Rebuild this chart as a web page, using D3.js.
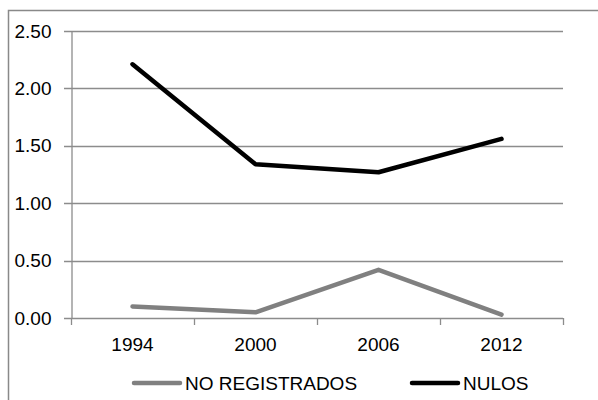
<!DOCTYPE html>
<html><head><meta charset="utf-8">
<script src="https://cdn.jsdelivr.net/npm/d3@7"></script>
<style>html,body{margin:0;padding:0;background:#fff;}svg{display:block;}</style>
</head><body>
<svg id="chart" width="598" height="400"></svg>
<script>
const years = ["1994", "2000", "2006", "2012"];
const noRegistrados = [0.10, 0.05, 0.42, 0.03];
const nulos = [2.21, 1.34, 1.27, 1.56];
const yTicks = [0, 0.5, 1, 1.5, 2, 2.5];
const seriesNames = ["NO REGISTRADOS", "NULOS"];
const seriesColors = ["#808080", "#000000"];

const svg = d3.select("#chart");
const font = "'Liberation Sans', Arial, sans-serif";
const fs = 19;

// outer frame
svg.append("rect").attr("x", 8.5).attr("y", 10.5).attr("width", 620).attr("height", 420)
  .attr("fill", "none").attr("stroke", "#898989").attr("stroke-width", 1.5);

const x = d3.scaleBand().domain(years).range([71, 563]);
const y = d3.scaleLinear().domain([0, 2.5]).range([318, 31]);

// gridlines
svg.append("g").selectAll("line").data(yTicks).join("line")
  .attr("x1", 64).attr("x2", 563)
  .attr("y1", d => Math.round(y(d)) + 0.5).attr("y2", d => Math.round(y(d)) + 0.5)
  .attr("stroke", "#8c8c8c").attr("stroke-width", 1.3);

// y axis
const yAxis = d3.axisLeft(y).tickValues(yTicks).tickFormat(d3.format(".2f")).tickSize(0).tickPadding(20);
const gy = svg.append("g").attr("transform", "translate(71.5,0)").call(yAxis);
gy.select(".domain").attr("stroke", "#8c8c8c").attr("stroke-width", 1.3);
gy.selectAll("text").attr("font-family", font).attr("font-size", fs).attr("fill", "#000");

// x axis
const xAxis = d3.axisBottom(x).tickSize(0).tickPadding(19);
const gx = svg.append("g").attr("transform", "translate(0,318.5)").call(xAxis);
gx.select(".domain").remove();
gx.selectAll("text").attr("font-family", font).attr("font-size", fs).attr("fill", "#000");
// category boundary ticks
const bounds = years.map(d => x(d)).concat([x(years[years.length - 1]) + x.bandwidth()]);
svg.append("g").selectAll("line").data(bounds).join("line")
  .attr("x1", d => Math.round(d) + 0.5).attr("x2", d => Math.round(d) + 0.5)
  .attr("y1", 318).attr("y2", 325)
  .attr("stroke", "#8c8c8c").attr("stroke-width", 1.3);

// lines
const line = d3.line().x((d, i) => x(years[i]) + x.bandwidth() / 2).y(d => y(d));
[noRegistrados, nulos].forEach((s, i) => {
  svg.append("path").datum(s).attr("d", line)
    .attr("fill", "none").attr("stroke", seriesColors[i]).attr("stroke-width", 4.5)
    .attr("stroke-linecap", "round").attr("stroke-linejoin", "round");
});

// legend
const legendX = [134, 412];
seriesNames.forEach((n, i) => {
  const g = svg.append("g").attr("transform", `translate(${legendX[i]},383)`);
  g.append("line").attr("x1", 0).attr("x2", 46).attr("y1", 0).attr("y2", 0)
    .attr("stroke", seriesColors[i]).attr("stroke-width", 4.5).attr("stroke-linecap", "round");
  g.append("text").attr("x", 51).attr("y", 0).attr("dy", "0.35em")
    .attr("font-family", font).attr("font-size", fs).attr("fill", "#000").text(n);
});
</script>
</body></html>
